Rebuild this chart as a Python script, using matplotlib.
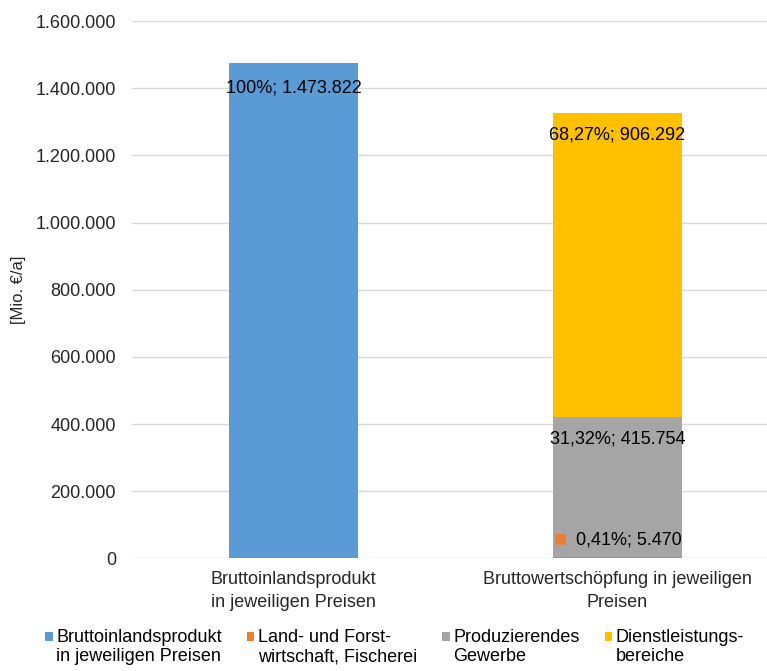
import matplotlib
matplotlib.use("Agg")
import matplotlib.pyplot as plt
from matplotlib.ticker import FuncFormatter
from matplotlib.patches import Patch, Rectangle
from matplotlib.legend_handler import HandlerPatch

plt.rcParams["font.family"] = ["Liberation Sans", "DejaVu Sans"]

# ── Data ─────────────────────────────────────────────────────────────────────
categories = ["Bruttoinlandsprodukt\nin jeweiligen Preisen",
              "Bruttowertschöpfung in jeweiligen\nPreisen"]
series_names = ["Bruttoinlandsprodukt\nin jeweiligen Preisen",
                "Land- und Forst-\nwirtschaft, Fischerei",
                "Produzierendes\nGewerbe",
                "Dienstleistungs-\nbereiche"]
series_colors = ["#5B9BD5", "#ED7D31", "#A5A5A5", "#FFC000"]
bip       = [1473822, 0]
land      = [0, 5470]
produz    = [0, 415754]
dienst    = [0, 906292]
labels_bar2 = ["0,41%", "31,32%", "68,27%"]
FS = 13


def de_fmt(v, _=None):
    return f"{int(round(v)):,}".replace(",", ".")


def square_first_line(legend, orig_handle, xdescent, ydescent, width, height, fontsize):
    # legend key sits next to the first line of a two-line entry (Excel style)
    return Rectangle((-xdescent, -ydescent + 7.5), width, height)


fig = plt.figure(figsize=(7.67, 6.71), dpi=100)
ax = fig.add_axes([132 / 767, 0.1677, 647 / 767, 0.801])

x = [0, 1]
w = 0.4
values = [bip, land, produz, dienst]
bottom = [0, 0]
for vals, col in zip(values, series_colors):
    ax.bar(x, vals, w, bottom=bottom, color=col, zorder=2)
    bottom = [bo + v for bo, v in zip(bottom, vals)]

ax.set_xlim(-0.5, 1.5)
ax.set_ylim(0, 1600000)
ax.set_yticks(range(0, 1600001, 200000))
ax.yaxis.set_major_formatter(FuncFormatter(de_fmt))
ax.grid(axis="y", color="#D9D9D9", lw=1, zorder=0)
for s in ax.spines.values():
    s.set_visible(False)
ax.tick_params(axis="both", length=0, labelsize=FS, colors="#262626")
ax.tick_params(axis="y", pad=11.5)
ax.set_xticks(x)
ax.set_xticklabels(categories, fontsize=FS, color="#262626", linespacing=1.45)
ax.tick_params(axis="x", pad=9)
ax.set_ylabel("[Mio. €/a]", fontsize=12, color="#262626")
ax.yaxis.set_label_coords(-0.164, 0.5)

# value labels, "inside end"
ax.annotate(f"100%; {de_fmt(bip[0])}", (0, bip[0]), xytext=(0, -18),
            textcoords="offset points", ha="center", va="center", fontsize=FS)
tops2 = [land[1], land[1] + produz[1], land[1] + produz[1] + dienst[1]]
ax.annotate(f"{labels_bar2[2]}; {de_fmt(dienst[1])}", (1, tops2[2]), xytext=(0, -16),
            textcoords="offset points", ha="center", va="center", fontsize=FS)
ax.annotate(f"{labels_bar2[1]}; {de_fmt(produz[1])}", (1, tops2[1]), xytext=(0, -16),
            textcoords="offset points", ha="center", va="center", fontsize=FS)
ax.annotate(f"{labels_bar2[0]}; {de_fmt(land[1])}", (1, land[1] / 2), xytext=(8.5, 12.5),
            textcoords="offset points", ha="center", va="center", fontsize=FS)
ax.annotate("■", (1, land[1] / 2), xytext=(-41, 14), textcoords="offset points",
            ha="center", va="center", fontsize=10, color=series_colors[1],
            family="DejaVu Sans")

handles = [Patch(facecolor=c) for c in series_colors]
leg = fig.legend(handles, series_names, loc="lower left", bbox_to_anchor=(0.038, -0.016),
                 ncol=4, frameon=False, fontsize=FS, handlelength=0.4, handleheight=0.4,
                 handletextpad=0.2, columnspacing=1.4, labelspacing=0.2,
                 handler_map={Patch: HandlerPatch(patch_func=square_first_line)})
for t in leg.get_texts():
    t.set_linespacing(1.2)

fig.savefig("out.png", dpi=100)
